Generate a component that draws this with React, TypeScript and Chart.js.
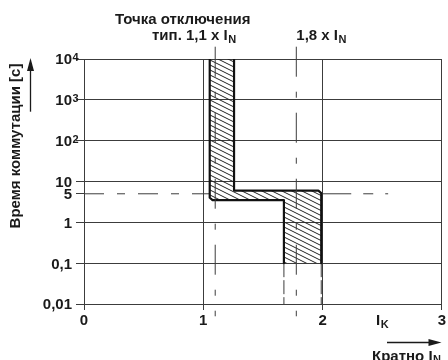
import React, { useEffect, useRef } from 'react';
import { Chart, registerables } from 'chart.js';

Chart.register(...registerables);

const FONT = '"Liberation Sans", Arial, Helvetica, sans-serif';
const TEXT = '#1a1a1a';
const GRID = '#3c3c3c';
const EDGE = '#111111';

// axes
const xTicks = [0, 1, 2, 3];
const yTickValues = [0.01, 0.1, 1, 5, 10, 100, 1000, 10000];
const yTickBase = ['0,01', '0,1', '1', '5', '10', '10', '10', '10'];
const yTickExp = ['', '', '', '', '', '2', '3', '4'];

// upper / right boundary of the tripping band (x = multiple of I_N, y = seconds)
const maxCurveX = [1.258, 1.258, 1.965, 1.989, 1.989];
const maxCurveY = [10000, 6, 6, 5.2, 0.1];
// lower / left boundary of the tripping band
const minCurveX = [1.054, 1.054, 1.078, 1.676, 1.676];
const minCurveY = [10000, 4.0, 3.5, 3.5, 0.1];

// reference markers
const typicalTrip = 1.1;
const limitTrip = 1.78;
const markerSpanY = [20000, 0.005];
const refTime = 5;
const refLeftX = [0, 1.054];
const refRightX = [1.989, 2.55];
const lowerEdgeX = [1.676, 1.989];
const lowerEdgeY = [0.1, 0.01];

const pts = (xs: number[], ys: number[]) => xs.map((x, i) => ({ x, y: ys[i] }));

function makeHatch(): CanvasPattern | string {
  const c = document.createElement('canvas');
  c.width = 10;
  c.height = 5;
  const g = c.getContext('2d');
  if (!g) return 'rgba(0,0,0,0.3)';
  g.strokeStyle = '#222';
  g.lineWidth = 1;
  g.beginPath();
  for (const k of [-5, 0, 5]) {
    g.moveTo(0, k);
    g.lineTo(10, k + 5);
  }
  g.stroke();
  return g.createPattern(c, 'repeat') || 'rgba(0,0,0,0.3)';
}

function subText(ctx: CanvasRenderingContext2D, main: string, sub: string, x: number, y: number, dy: number, subSize = 11) {
  ctx.textAlign = 'left';
  ctx.font = `bold 15px ${FONT}`;
  ctx.fillText(main, x, y);
  const w = ctx.measureText(main).width;
  ctx.font = `bold ${subSize}px ${FONT}`;
  ctx.fillText(sub, x + w + 0.5, y + dy);
}

const annotations = {
  id: 'annotations',
  afterDraw(chart: any) {
    const ctx: CanvasRenderingContext2D = chart.ctx;
    const ys = chart.scales.y;
    const xs = chart.scales.x;
    ctx.save();
    ctx.fillStyle = TEXT;
    ctx.strokeStyle = TEXT;
    ctx.textBaseline = 'alphabetic';

    // y tick labels with superscripts
    const rx = ys.right - 12;
    yTickValues.forEach((v, i) => {
      const py = ys.getPixelForValue(v);
      ctx.font = `bold 15px ${FONT}`;
      ctx.textAlign = 'right';
      ctx.fillText(yTickBase[i], rx, py + 5.4);
      if (yTickExp[i]) {
        ctx.font = `bold 11px ${FONT}`;
        ctx.textAlign = 'left';
        ctx.fillText(yTickExp[i], rx + 0.5, py + 2);
      }
    });

    // top labels
    ctx.font = `bold 15px ${FONT}`;
    ctx.textAlign = 'left';
    ctx.fillText('Точка отключения', 115, 24);
    subText(ctx, 'тип. 1,1 x I', 'N', 152, 40, 2.7);
    subText(ctx, '1,8 x I', 'N', xs.getPixelForValue(limitTrip), 40, 2.7);

    // x axis labels
    subText(ctx, 'I', 'K', 376, 325, 2.5);
    subText(ctx, 'Кратно I', 'N', 372, 360.5, 2.7);

    // y axis title
    ctx.save();
    ctx.translate(20, 146);
    ctx.rotate(-Math.PI / 2);
    ctx.font = `bold 15px ${FONT}`;
    ctx.textAlign = 'center';
    ctx.fillText('Время коммутации [с]', 0, 0);
    ctx.restore();

    // arrows
    ctx.lineWidth = 1.3;
    ctx.beginPath();
    ctx.moveTo(30.5, 111.7);
    ctx.lineTo(30.5, 68);
    ctx.stroke();
    ctx.beginPath();
    ctx.moveTo(30.5, 58);
    ctx.lineTo(27, 71);
    ctx.lineTo(34, 71);
    ctx.closePath();
    ctx.fill();

    ctx.beginPath();
    ctx.moveTo(387, 342.5);
    ctx.lineTo(431, 342.5);
    ctx.stroke();
    ctx.beginPath();
    ctx.moveTo(441.5, 342.5);
    ctx.lineTo(428.5, 339);
    ctx.lineTo(428.5, 346);
    ctx.closePath();
    ctx.fill();

    ctx.restore();
  },
};

export default function App() {
  const ref = useRef<HTMLCanvasElement | null>(null);

  useEffect(() => {
    if (!ref.current) return;
    const hatch = makeHatch();
    const base = { pointRadius: 0, pointHoverRadius: 0, tension: 0, fill: false };
    const chart = new Chart(ref.current, {
      type: 'line',
      data: {
        datasets: [
          {
            ...base,
            label: 'typ',
            data: pts([typicalTrip, typicalTrip], markerSpanY),
            borderColor: GRID,
            borderWidth: 1,
            borderDash: [30, 15, 6, 15],
            clip: false,
            order: 1,
          },
          {
            ...base,
            label: 'limit',
            data: pts([limitTrip, limitTrip], markerSpanY),
            borderColor: GRID,
            borderWidth: 1,
            borderDash: [30, 15, 6, 15],
            clip: false,
            order: 1,
          },
          {
            ...base,
            label: 'max',
            data: pts(maxCurveX, maxCurveY),
            borderColor: EDGE,
            borderWidth: 2.2,
            borderJoinStyle: 'round',
            order: 2,
          },
          {
            ...base,
            label: 'min',
            data: pts(minCurveX, minCurveY),
            borderColor: EDGE,
            borderWidth: 2.2,
            borderJoinStyle: 'round',
            order: 2,
          },
          {
            ...base,
            label: 'lowL',
            data: pts([lowerEdgeX[0], lowerEdgeX[0]], lowerEdgeY),
            borderColor: GRID,
            borderWidth: 1,
            borderDash: [14, 3],
            order: 3,
          },
          {
            ...base,
            label: 'lowR',
            data: pts([lowerEdgeX[1], lowerEdgeX[1]], lowerEdgeY),
            borderColor: GRID,
            borderWidth: 1,
            borderDash: [14, 3],
            order: 3,
          },
          {
            ...base,
            label: 'band',
            data: [...pts(maxCurveX, maxCurveY), ...pts(minCurveX, minCurveY).reverse()],
            borderWidth: 0,
            borderColor: 'rgba(0,0,0,0)',
            backgroundColor: hatch as any,
            fill: 'shape',
            order: 5,
          },
          {
            ...base,
            label: 'ref5a',
            data: pts(refLeftX, [refTime, refTime]),
            borderColor: GRID,
            borderWidth: 1,
            borderDash: [20, 13, 8, 13],
            order: 6,
          },
          {
            ...base,
            label: 'ref5b',
            data: pts(refRightX, [refTime, refTime]),
            borderColor: GRID,
            borderWidth: 1,
            borderDash: [30, 12, 10, 12],
            order: 6,
          },
        ] as any,
      },
      options: {
        responsive: false,
        maintainAspectRatio: false,
        animation: false,
        events: [],
        layout: { padding: { top: 59, right: 5.5, left: 0, bottom: 0 } },
        plugins: { legend: { display: false }, tooltip: { enabled: false } },
        scales: {
          x: {
            type: 'linear',
            min: 0,
            max: 3,
            afterBuildTicks: (s: any) => {
              s.ticks = xTicks.map((v) => ({ value: v }));
            },
            grid: { color: GRID, lineWidth: 1, tickLength: 6, drawTicks: true },
            border: { color: GRID, width: 1 },
            ticks: {
              font: { family: FONT, size: 15, weight: 'bold' },
              color: TEXT,
              padding: 2,
              maxRotation: 0,
              autoSkip: false,
              callback: (v: any) => String(v),
            },
            afterFit: (s: any) => {
              s.height = 56;
            },
          },
          y: {
            type: 'logarithmic',
            min: 0.01,
            max: 10000,
            afterBuildTicks: (s: any) => {
              s.ticks = yTickValues.map((v) => ({ value: v }));
            },
            grid: {
              color: (c: any) => (c.tick && c.tick.value === refTime ? 'rgba(0,0,0,0)' : GRID),
              tickColor: GRID,
              lineWidth: 1,
              tickLength: 8,
            },
            border: { color: GRID, width: 1 },
            ticks: { display: false },
            afterFit: (s: any) => {
              s.width = 84;
            },
          },
        },
      } as any,
      plugins: [annotations],
    });
    return () => chart.destroy();
  }, []);

  return (
    <div style={{ position: 'fixed', left: 0, top: 0, width: 448, height: 360, background: '#fff' }}>
      <canvas ref={ref} width={448} height={360} style={{ display: 'block' }} />
    </div>
  );
}
